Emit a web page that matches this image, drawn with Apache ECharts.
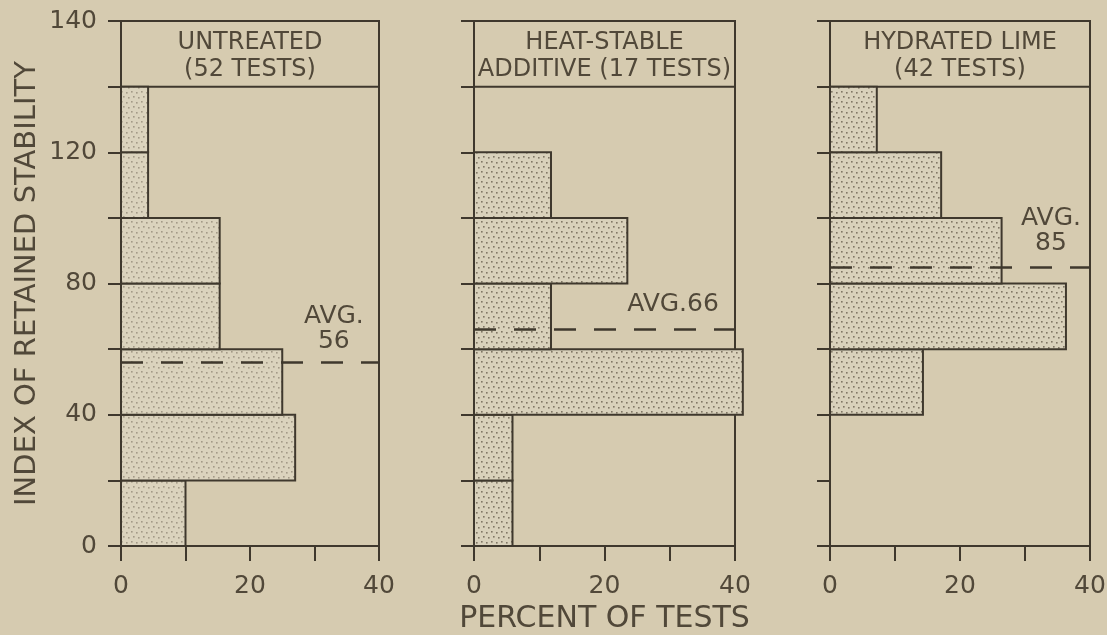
<!DOCTYPE html>
<html>
<head>
<meta charset="utf-8">
<script src="https://cdn.jsdelivr.net/npm/echarts@6/dist/echarts.min.js"></script>
<style>
    html, body { margin: 0; padding: 0; background: #d6cbb0; }
    #chart { width: 1107px; height: 635px; }
</style>
</head>
<body>
<div id="chart"></div>
<script>
// stability index bins (lower edge of each 20-wide bin)
const binEdges = [0, 20, 40, 60, 80, 100, 120, 140];
const panelTitles = ['UNTREATED\n(52 TESTS)', 'HEAT-STABLE\nADDITIVE (17 TESTS)', 'HYDRATED LIME\n(42 TESTS)'];
// percent of tests in each bin
const untreatedPct = [10, 27, 25, 15.3, 15.3, 4.2, 4.2];
const heatStablePct = [5.9, 5.9, 41.2, 11.8, 23.5, 11.8, 0];
const limePct = [0, 0, 14.3, 36.3, 26.4, 17.1, 7.2];
const averages = [56, 66, 85];
const avgLabels = ['AVG.\n56', 'AVG.66', 'AVG.\n85'];
const yTickLabels = ['0', '', '40', '', '80', '', '120', '', '140'];
const xTickLabels = ['0', '', '20', '', '40'];

const INK = '#3f382d';
const TEXT = '#514839';
const FONT = 'DejaVu Sans';

const panelLeft = [121, 474, 830];
const panelWidth = [258, 261, 260];
const avgLabelX = [33, 30.5, 34];
const avgLabelGap = [8, 12, 11];

function stipple(base, alpha) {
    let c = document.createElement('canvas');
    c.width = 10;
    c.height = 10;
    let ctx = c.getContext('2d');
    ctx.fillStyle = base;
    ctx.fillRect(0, 0, 10, 10);
    ctx.fillStyle = 'rgba(80,70,55,' + alpha + ')';
    [[1, 1], [6, 2], [3, 6], [8, 7]].forEach(p => ctx.fillRect(p[0], p[1], 1.6, 1.6));
    return c;
}

const fills = [
    {image: stipple('#dbd3bd', 0.4), repeat: 'repeat'},
    {image: stipple('#d9d1bb', 0.65), repeat: 'repeat'},
    {image: stipple('#d9d1bb', 0.65), repeat: 'repeat'}
];

function histData(pct) {
    return pct.map((p, i) => [p, binEdges[i], binEdges[i] + 20]);
}

let chart = echarts.init(document.getElementById('chart'));

let grids = [], xAxes = [], yAxes = [], series = [];
[untreatedPct, heatStablePct, limePct].forEach((pct, k) => {
    grids.push({
        left: panelLeft[k], width: panelWidth[k], top: 21, height: 525,
        outerBoundsMode: 'none',
        show: true, borderColor: INK, borderWidth: 2
    });
    xAxes.push({
        gridIndex: k, type: 'value', min: 0, max: 40, interval: 10,
        axisLine: {show: true, lineStyle: {color: INK, width: 2}},
        axisTick: {show: true, length: 15, lineStyle: {color: INK, width: 2}},
        splitLine: {show: false},
        axisLabel: {
            margin: 28, color: TEXT, fontFamily: FONT, fontSize: 25,
            formatter: v => xTickLabels[Math.round(v / 10)]
        },
        name: k === 1 ? 'PERCENT OF TESTS' : '',
        nameLocation: 'middle', nameGap: 58,
        nameTextStyle: {color: TEXT, fontFamily: FONT, fontSize: 30}
    });
    yAxes.push({
        gridIndex: k, type: 'value', min: 0, max: 160, interval: 20,
        axisLine: {show: true, lineStyle: {color: INK, width: 2}},
        axisTick: {show: true, length: 13, lineStyle: {color: INK, width: 2}},
        splitLine: {show: false},
        axisLabel: {
            show: k === 0, margin: 24, color: TEXT, fontFamily: FONT, fontSize: 25,
            formatter: v => yTickLabels[Math.round(v / 20)]
        },
        name: k === 0 ? 'INDEX OF RETAINED STABILITY' : '',
        nameLocation: 'middle', nameRotate: 90, nameGap: 79,
        nameTextStyle: {color: TEXT, fontFamily: FONT, fontSize: 29}
    });
    series.push({
        type: 'custom',
        xAxisIndex: k,
        yAxisIndex: k,
        encode: {x: 0, y: [1, 2]},
        data: histData(pct),
        renderItem: function (params, api) {
            if (api.value(0) <= 0) return null;
            let p0 = api.coord([0, api.value(1)]);
            let p1 = api.coord([api.value(0), api.value(2)]);
            return {
                type: 'rect',
                shape: {x: p0[0], y: p1[1], width: p1[0] - p0[0], height: p0[1] - p1[1]},
                style: {fill: fills[k], stroke: INK, lineWidth: 2}
            };
        },
        markArea: {
            silent: true,
            itemStyle: {color: 'rgba(0,0,0,0)', borderColor: INK, borderWidth: 2},
            label: {
                show: true, position: 'inside', offset: [0, 2], color: TEXT, fontFamily: FONT,
                fontSize: 24, lineHeight: 27, formatter: panelTitles[k]
            },
            data: [[{xAxis: 0, yAxis: 140}, {xAxis: 40, yAxis: 160}]]
        },
        markLine: {
            silent: true,
            symbol: ['none', 'none'],
            label: {show: false},
            lineStyle: {color: INK, width: 2.5, type: [22, 18]},
            data: [{yAxis: averages[k]}]
        },
        markPoint: {
            silent: true,
            symbol: 'circle',
            symbolSize: 0,
            label: {
                show: true, position: 'top', distance: avgLabelGap[k],
                color: TEXT, fontFamily: FONT, fontSize: 25, lineHeight: 25,
                formatter: avgLabels[k]
            },
            data: [{coord: [avgLabelX[k], averages[k]]}]
        }
    });
});

chart.setOption({
    backgroundColor: '#d6cbb0',
    animation: false,
    grid: grids,
    xAxis: xAxes,
    yAxis: yAxes,
    series: series
});
</script>
</body>
</html>
